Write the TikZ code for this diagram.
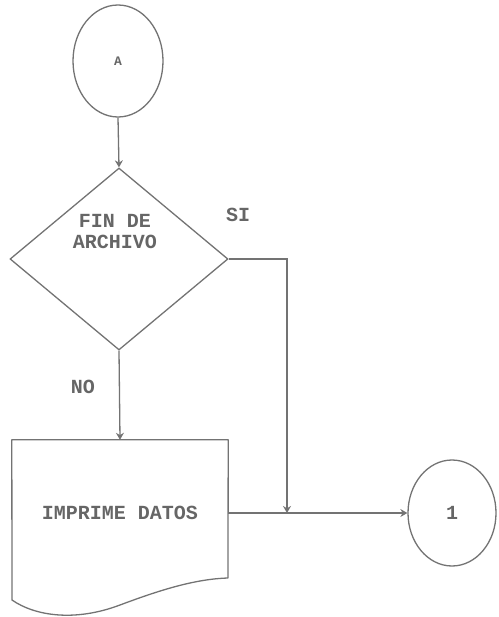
\documentclass[tikz,border=0pt]{standalone}
\usepackage{fontspec}
\setmonofont{Liberation Mono}
\usetikzlibrary{shapes.geometric,arrows.meta}
\begin{document}
\begin{tikzpicture}[x=1pt,y=-1pt,
  every node/.style={font=\ttfamily\bfseries\fontsize{20}{21}\selectfont, text=black!60},
  ln/.style={draw=black!55, line width=1.3pt},
  arr/.style={ln, -{Stealth[length=7pt,width=8pt]}},
  conn/.style={ellipse, ln, inner sep=0pt},
]
\useasboundingbox (0,0) rectangle (498,617);
% nodes
\node[conn, minimum width=90pt, minimum height=112pt] (A) at (118,61) {\fontsize{13}{13}\selectfont A};
\node[diamond, ln, inner sep=0pt, minimum width=218pt, minimum height=182pt] (dec) at (119,259) {};
\node[align=center, inner sep=0pt] (dectxt) at (115,232) {FIN DE\\ARCHIVO};
\node[minimum width=216pt, minimum height=146pt, inner sep=0pt] (doc) at (120,513) {IMPRIME DATOS};
\draw[ln, line join=round] (228,578) -- (doc.north east) -- (doc.north west) -- (12,600)
  .. controls (35,616) and (75,622) .. (120,605)
  .. controls (160,590) and (195,579) .. (228,578) -- cycle;
\node[conn, minimum width=88pt, minimum height=106pt] (c1) at (452,513) {1};
\node (si) at (238,215) {SI};
\node (no) at (83,387) {NO};
\coordinate (j) at (287,513);
% connectors
\draw[arr] (A.south) -- (dec.north);
\draw[arr] (dec.south) -- (doc.north);
\draw[arr] (dec.east) -| (j);
\draw[arr] (doc.east) -- (c1.west);
\end{tikzpicture}
\end{document}
